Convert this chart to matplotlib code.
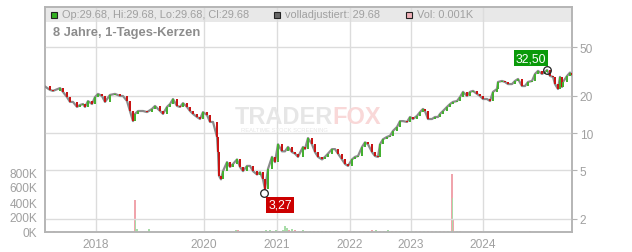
import matplotlib
matplotlib.use("Agg")
import matplotlib.pyplot as plt
from matplotlib.patches import Rectangle
from matplotlib.ticker import FixedLocator, FixedFormatter, NullLocator
import numpy as np

plt.rcParams['font.family'] = ['Liberation Sans', 'DejaVu Sans']

# ---------------- data ----------------
sessions = [0, 10, 16, 30, 36, 44, 50, 56, 64, 70, 76, 80, 86, 94, 100, 106, 114, 120, 130, 140,
            150, 156, 164, 170, 176, 180, 186, 196, 204, 214, 220, 230, 236, 244, 250, 256, 264, 270,
            276, 284, 290, 296, 304, 310, 316, 324, 330, 336, 344, 346, 348, 352, 356, 364, 370, 376,
            384, 390, 396, 404, 410, 416, 424, 430, 436, 440, 446, 454, 460, 466, 474, 480, 486, 494,
            500, 506, 516, 520, 526, 534, 540, 546, 554, 560, 566, 574, 580, 586, 594, 600, 606, 614,
            620, 626, 634, 640, 646, 654, 660, 666, 670, 676, 684, 690, 696, 704, 710, 716, 724, 730,
            736, 744, 750, 756, 760, 766, 774, 780, 786, 790, 796, 804, 810, 816, 824, 830, 836, 844,
            850, 856, 864, 870, 876, 884, 890, 896, 904, 906, 914, 920, 926, 934, 940, 946, 954, 960,
            966, 974, 980, 986, 994, 1000, 1004, 1010, 1016, 1020, 1026, 1030, 1034, 1036, 1044, 1050,
            1054]
closes = [23.9, 22.4, 22.0, 23.2, 21.6, 19.6, 17.9, 17.9, 16.3, 16.9, 17.2, 16.3, 18.2, 17.2, 19.6,
          20.8, 20.0, 17.9, 20.4, 20.8, 20.0, 20.0, 18.2, 15.1, 12.5, 14.3, 15.1, 15.1, 14.8, 15.7,
          16.6, 15.1, 14.3, 16.3, 17.2, 18.9, 16.6, 16.3, 17.5, 16.3, 15.1, 14.3, 13.5, 13.0, 14.8,
          14.0, 12.3, 12.3, 9.3, 7.0, 4.5, 4.2, 4.9, 5.8, 5.3, 5.6, 6.1, 5.3, 4.9, 5.4, 5.4, 4.9,
          4.6, 4.8, 4.2, 3.5, 5.1, 6.4, 5.8, 8.1, 7.1, 7.1, 7.7, 7.0, 6.8, 6.4, 7.7, 7.4, 9.1, 8.1,
          7.0, 6.4, 6.1, 6.4, 6.8, 7.4, 7.4, 6.8, 6.1, 5.6, 5.4, 6.1, 6.4, 6.5, 7.7, 8.4, 8.1, 7.0,
          6.5, 6.4, 8.1, 8.9, 9.3, 9.5, 10.4, 11.2, 12.5, 12.5, 12.3, 13.5, 13.0, 13.8, 14.8, 15.7,
          15.1, 13.0, 13.0, 13.5, 13.5, 14.3, 15.1, 16.3, 17.2, 17.9, 18.2, 19.6, 21.6, 20.0, 21.6,
          22.0, 20.8, 20.0, 18.9, 18.9, 18.2, 21.6, 22.8, 26.0, 26.5, 26.0, 25.0, 25.0, 26.5, 27.5,
          24.1, 24.1, 26.0, 26.5, 30.2, 32.0, 30.2, 31.4, 32.5, 29.1, 28.6, 25.0, 22.8, 28.6, 23.7,
          26.0, 29.1, 31.0, 29.68]

vol_sessions = [18, 180, 181, 184, 208, 340, 346, 354, 362, 382, 386, 390, 398, 406, 414, 422, 434,
                442, 450, 456, 462, 468, 476, 480, 484, 488, 494, 500, 508, 516, 522, 530, 538, 546,
                554, 562, 570, 578, 586, 594, 602, 610, 618, 630, 638, 646, 654, 662, 670, 678, 686,
                694, 702, 710, 718, 726, 734, 742, 750, 758, 766, 774, 782, 790, 798, 806, 814, 815,
                817, 824, 830, 852, 872, 970]
vol_values = [15e3, 430e3, 170e3, 35e3, 45e3, 15e3, 15e3, 12e3, 15e3, 30e3, 25e3, 20e3, 15e3, 20e3,
              15e3, 15e3, 20e3, 25e3, 30e3, 20e3, 30e3, 20e3, 30e3, 80e3, 55e3, 30e3, 35e3, 25e3,
              20e3, 25e3, 20e3, 20e3, 15e3, 15e3, 18e3, 15e3, 18e3, 15e3, 15e3, 15e3, 20e3, 15e3,
              15e3, 15e3, 20e3, 20e3, 25e3, 30e3, 20e3, 15e3, 30e3, 20e3, 15e3, 15e3, 15e3, 12e3,
              15e3, 12e3, 15e3, 12e3, 15e3, 12e3, 12e3, 15e3, 12e3, 12e3, 780e3, 450e3, 175e3, 15e3,
              15e3, 12e3, 12e3, 10e3]
vol_up = [0, 0, 1, 1, 1, 0, 0, 1, 0, 1, 0, 1, 0, 1, 0, 1, 0, 1, 1, 0, 1, 0, 1, 1, 1, 0, 1, 0, 0, 1,
          0, 1, 0, 0, 1, 0, 0, 1, 0, 0, 1, 0, 1, 0, 0, 1, 0, 1, 0, 1, 1, 0, 0, 1, 0, 0, 1, 0, 0, 1,
          0, 0, 1, 0, 0, 1, 0, 1, 0, 1, 0, 0, 0, 0]

year_labels = ['2018', '2020', '2021', '2022', '2023', '2024']
year_sessions = [102, 318, 464, 610, 732, 876]
price_ticks = [2, 5, 10, 20, 50]
vol_ticks = [0, 200e3, 400e3, 600e3, 800e3]
vol_tick_labels = ['0K', '200K', '400K', '600K', '800K']

high_session, high_value, high_label = 1004, 32.50, '32,50'
low_session, low_value, low_label = 438, 3.27, '3,27'

header_ohlc = 'Op:29.68, Hi:29.68, Lo:29.68, Cl:29.68'
header_adj = 'volladjustiert: 29.68'
header_vol = 'Vol: 0.001K'
title = '8 Jahre, 1-Tages-Kerzen'

# ---------------- figure ----------------
W, H = 632, 253
fig = plt.figure(figsize=(W / 100, H / 100), dpi=100)
L, R, T, B = 45, 572, 8, 233
ax = fig.add_axes([L / W, 1 - B / H, (R - L) / W, (B - T) / H])
ax2 = ax.twinx()
ax.set_zorder(1)
ax2.set_zorder(2)
ax2.patch.set_visible(False)

grid_c = '#dcdcdc'
txt_c = '#a0a0a0'
spine_c = '#b4b4b4'

# header band
ax.add_patch(Rectangle((0, 1 - 15 / (B - T)), 1, 15 / (B - T), transform=ax.transAxes,
                       facecolor='#e8e8e8', edgecolor='none', zorder=0.2))

# volume
vcol = ['#a8dca8' if u else '#f0a4ac' for u in vol_up]
ax.bar(vol_sessions, vol_values, width=2.2, color=vcol, linewidth=0, zorder=2)
ax.set_ylim(0, 3.0e6)
ax.set_xlim(0, 1054)
ax.yaxis.set_major_locator(FixedLocator(vol_ticks))
ax.yaxis.set_major_formatter(FixedFormatter(vol_tick_labels))
ax.tick_params(axis='y', left=False, labelsize=8.6, labelcolor=txt_c, pad=2)
ax.xaxis.set_major_locator(FixedLocator(year_sessions))
ax.xaxis.set_major_formatter(FixedFormatter(year_labels))
ax.tick_params(axis='x', length=0, labelsize=8.6, labelcolor=txt_c, pad=4.5)
ax.set_axisbelow(True)
ax.grid(axis='x', color=grid_c, lw=1.0, zorder=0.5)

# price
ax2.set_yscale('log')
ax2.set_ylim(1.568, 105.8)
ax2.plot(sessions, closes, color='#8a8a8a', lw=1.6, zorder=3, solid_joinstyle='round')
opens = closes[:-1]
cls = closes[1:]
cs = sessions[1:]
bottoms = [min(o, c) for o, c in zip(opens, cls)]
heights = [abs(c - o) for o, c in zip(opens, cls)]
ccol = ['#44b030' if c >= o else '#c81414' for o, c in zip(opens, cls)]
ax2.bar(cs, heights, bottom=bottoms, width=2.6, color=ccol, linewidth=0, zorder=4)
ax2.yaxis.set_major_locator(FixedLocator(price_ticks))
ax2.yaxis.set_major_formatter(FixedFormatter([str(t) for t in price_ticks]))
ax2.yaxis.set_minor_locator(NullLocator())
ax2.tick_params(axis='y', which='major', right=True, length=3.5, color=spine_c,
                labelsize=8.6, labelcolor=txt_c, pad=2)
ax2.set_axisbelow(True)
ax2.grid(axis='y', color=grid_c, lw=1.0, zorder=0.5)

for a in (ax, ax2):
    for s in a.spines.values():
        s.set_color(spine_c)
        s.set_linewidth(1.1)

# watermark
ax2.text(0.546, 0.515, 'TRADER', transform=ax2.transAxes, ha='right', va='center',
         fontsize=17, fontweight='bold', color='#e6e6e6', zorder=1)
ax2.text(0.546, 0.515, 'FOX', transform=ax2.transAxes, ha='left', va='center',
         fontsize=17, fontweight='bold', color='#f9d8d8', zorder=1)
ax2.text(0.455, 0.455, 'REALTIME STOCK SCREENING', transform=ax2.transAxes, ha='center',
         va='center', fontsize=4.2, color='#e6e6e6', zorder=1)

# annotations
ax2.plot([high_session], [high_value], 'o', mfc='none', mec='#222222', ms=5.5, mew=0.9, zorder=6)
ax2.plot([low_session], [low_value], 'o', mfc='none', mec='#222222', ms=5.5, mew=0.9, zorder=6)
ax2.annotate(high_label, (high_session, high_value), xytext=(-11.5, 8.5), textcoords='offset points',
             ha='center', va='center', color='white', fontsize=8.8, zorder=7,
             bbox=dict(boxstyle='square,pad=0.15', fc='#0a9a0a', ec='none'))
ax2.annotate(low_label, (low_session, low_value), xytext=(11.5, -8.8), textcoords='offset points',
             ha='center', va='center', color='white', fontsize=8.8, zorder=7,
             bbox=dict(boxstyle='square,pad=0.15', fc='#cc0000', ec='none'))

# header
def px(x, y):
    return x / W, 1 - y / H

for sx, fc in ((51, '#33b022'), (274, '#666666'), (406, '#f0b0b8')):
    fig.add_artist(Rectangle(px(sx, 18.5), 6 / W, 6 / H, transform=fig.transFigure,
                             facecolor=fc, edgecolor='#222222', lw=0.8, zorder=20))
fig.text(*px(61.5, 15.5), header_ohlc, fontsize=7.9, color=txt_c, va='center', ha='left', zorder=20)
fig.text(*px(285, 15.5), header_adj, fontsize=7.9, color=txt_c, va='center', ha='left', zorder=20)
fig.text(*px(417, 15.5), header_vol, fontsize=7.9, color=txt_c, va='center', ha='left', zorder=20)
fig.text(*px(53, 33), title, fontsize=9.3, fontweight='bold', color='#8c8c8c',
         va='center', ha='left', zorder=20)

fig.savefig('out.png', dpi=100)
